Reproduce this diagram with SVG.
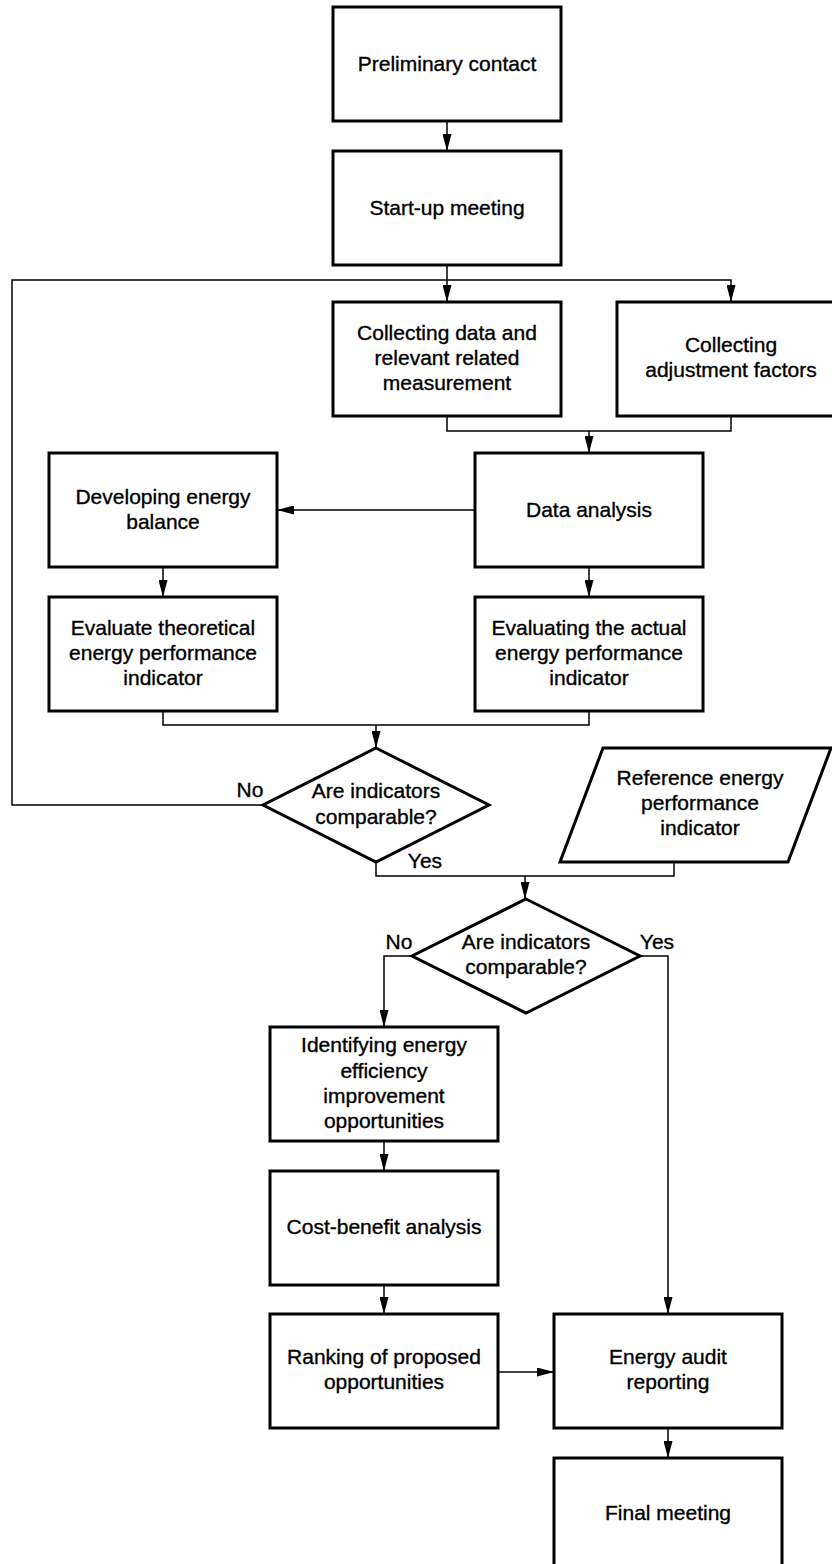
<svg xmlns="http://www.w3.org/2000/svg" width="832" height="1564" viewBox="0 0 832 1564">
<style>
.box{fill:#fff;stroke:#000;stroke-width:3}
.ln{fill:none;stroke:#000;stroke-width:1.5}
.t{font-family:"Liberation Sans",Arial,sans-serif;font-size:21px;fill:#000;stroke:#000;stroke-width:0.35;text-anchor:middle}
.lbl{font-family:"Liberation Sans",Arial,sans-serif;font-size:21px;fill:#000;stroke:#000;stroke-width:0.35;text-anchor:middle}
</style>
<defs>
<marker id="ah" viewBox="0 0 17 9" markerWidth="17" markerHeight="9" refX="17" refY="4.5" orient="auto" markerUnits="userSpaceOnUse">
<path d="M0,0 L17,4.5 L0,9 z" fill="#000"/>
</marker>
</defs>
<rect width="832" height="1564" fill="#fff"/>
<g id="connectors">
<path class="ln" d="M447,121 V151" marker-end="url(#ah)"/>
<path class="ln" d="M447,265 V302" marker-end="url(#ah)"/>
<path class="ln" d="M263,805 H12 V280 H731 V302" marker-end="url(#ah)"/>
<path class="ln" d="M447,416 V431 H731 V416"/>
<path class="ln" d="M589,431 V453" marker-end="url(#ah)"/>
<path class="ln" d="M475,510 H277" marker-end="url(#ah)"/>
<path class="ln" d="M163,567 V597" marker-end="url(#ah)"/>
<path class="ln" d="M589,567 V597" marker-end="url(#ah)"/>
<path class="ln" d="M163,711 V725 H589 V711"/>
<path class="ln" d="M376,725 V748" marker-end="url(#ah)"/>
<path class="ln" d="M376,862 V876 H674 V862"/>
<path class="ln" d="M525,876 V899" marker-end="url(#ah)"/>
<path class="ln" d="M412,956 H384 V1027" marker-end="url(#ah)"/>
<path class="ln" d="M640,956 H668 V1314" marker-end="url(#ah)"/>
<path class="ln" d="M384,1141 V1171" marker-end="url(#ah)"/>
<path class="ln" d="M384,1285 V1314" marker-end="url(#ah)"/>
<path class="ln" d="M498,1372 H554" marker-end="url(#ah)"/>
<path class="ln" d="M668,1428 V1458" marker-end="url(#ah)"/>
</g>
<g id="preliminary-contact">
<rect class="box" x="333" y="7" width="228" height="114"/>
<text class="t" x="447" y="71">Preliminary contact</text>
</g>
<g id="start-up-meeting">
<rect class="box" x="333" y="151" width="228" height="114"/>
<text class="t" x="447" y="215">Start-up meeting</text>
</g>
<g id="collecting-data">
<rect class="box" x="333" y="302" width="228" height="114"/>
<text class="t" x="447" y="340">Collecting data and</text>
<text class="t" x="447" y="365">relevant related</text>
<text class="t" x="447" y="390">measurement</text>
</g>
<g id="collecting-adjustment">
<rect class="box" x="617" y="302" width="228" height="114"/>
<text class="t" x="731" y="352">Collecting</text>
<text class="t" x="731" y="377">adjustment factors</text>
</g>
<g id="developing-energy-balance">
<rect class="box" x="49" y="453" width="228" height="114"/>
<text class="t" x="163" y="504">Developing energy</text>
<text class="t" x="163" y="529">balance</text>
</g>
<g id="data-analysis">
<rect class="box" x="475" y="453" width="228" height="114"/>
<text class="t" x="589" y="517">Data analysis</text>
</g>
<g id="evaluate-theoretical">
<rect class="box" x="49" y="597" width="228" height="114"/>
<text class="t" x="163" y="635">Evaluate theoretical</text>
<text class="t" x="163" y="660">energy performance</text>
<text class="t" x="163" y="685">indicator</text>
</g>
<g id="evaluating-actual">
<rect class="box" x="475" y="597" width="228" height="114"/>
<text class="t" x="589" y="635">Evaluating the actual</text>
<text class="t" x="589" y="660">energy performance</text>
<text class="t" x="589" y="685">indicator</text>
</g>
<g id="decision-1">
<polygon class="box" points="376,748 489,805 376,862 263,805"/>
<text class="t" x="376" y="798">Are indicators</text>
<text class="t" x="376" y="824">comparable?</text>
<text class="lbl" x="250" y="797">No</text>
<text class="lbl" x="425" y="868">Yes</text>
</g>
<g id="reference-epi">
<polygon class="box" points="603,748 831,748 788,862 560,862"/>
<text class="t" x="700" y="785">Reference energy</text>
<text class="t" x="700" y="810">performance</text>
<text class="t" x="700" y="835">indicator</text>
</g>
<g id="decision-2">
<polygon class="box" points="526,899 640,956 526,1013 412,956"/>
<text class="t" x="526" y="949">Are indicators</text>
<text class="t" x="526" y="974">comparable?</text>
<text class="lbl" x="399" y="949">No</text>
<text class="lbl" x="657" y="949">Yes</text>
</g>
<g id="identifying">
<rect class="box" x="270" y="1027" width="228" height="114"/>
<text class="t" x="384" y="1052">Identifying energy</text>
<text class="t" x="384" y="1078">efficiency</text>
<text class="t" x="384" y="1103">improvement</text>
<text class="t" x="384" y="1128">opportunities</text>
</g>
<g id="cost-benefit">
<rect class="box" x="270" y="1171" width="228" height="114"/>
<text class="t" x="384" y="1234">Cost-benefit analysis</text>
</g>
<g id="ranking">
<rect class="box" x="270" y="1314" width="228" height="114"/>
<text class="t" x="384" y="1364">Ranking of proposed</text>
<text class="t" x="384" y="1389">opportunities</text>
</g>
<g id="energy-audit-reporting">
<rect class="box" x="554" y="1314" width="228" height="114"/>
<text class="t" x="668" y="1364">Energy audit</text>
<text class="t" x="668" y="1389">reporting</text>
</g>
<g id="final-meeting">
<rect class="box" x="554" y="1458" width="228" height="114"/>
<text class="t" x="668" y="1520">Final meeting</text>
</g>
</svg>
